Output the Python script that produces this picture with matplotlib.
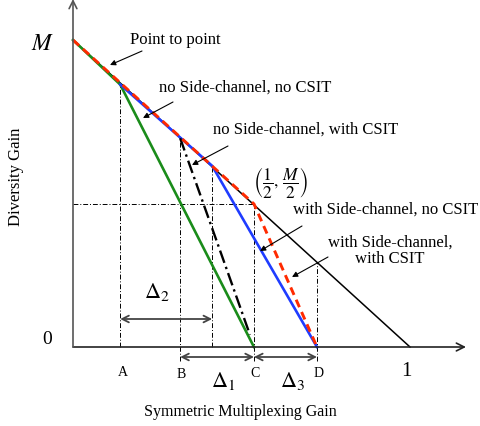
import matplotlib
matplotlib.use('Agg')
import matplotlib.pyplot as plt

plt.rcParams['font.family'] = ['Liberation Serif', 'DejaVu Serif']
plt.rcParams['mathtext.fontset'] = 'stix'

# 軸の値 (M = 1)
M = 1.0
point_x = [0.0, 1.0]
point_y = [M, 0.0]
nosc_nocsit_x = [0.0, 0.14, 0.537]
nosc_nocsit_y = [M, 0.855, 0.0]
nosc_csit_x = [0.318, 0.525]
nosc_csit_y = [0.68, 0.04]
sc_nocsit_x = [0.14, 0.413, 0.724]
sc_nocsit_y = [0.855, 0.59, 0.0]
sc_csit_x = [0.0, 0.537, 0.724]
sc_csit_y = [M, 0.466, 0.0]

# A, B, C, D の位置
mark_names = ['A', 'B', 'C', 'D']
mark_x = [0.14, 0.318, 0.537, 0.724]
mark_top = [0.855, 0.68, 0.466, 0.277]
gap_x = 0.413       # Δ2 の右端
half_y = 0.466      # (1/2, M/2) の高さ


def px(x, y):
    # 画像のピクセル位置 -> データ座標
    return (x - 73) / 337, (348 - y) / 307


fig = plt.figure(figsize=(4.8, 4.27), dpi=100)
ax = fig.add_axes([0, 0, 1, 1])
ax.set_xlim(-73 / 337, 407 / 337)
ax.set_ylim(-79 / 307, 348 / 307)
ax.axis('off')

# 軸の矢印
ax.annotate('', xy=px(466, 348), xytext=(0, 0),
            arrowprops=dict(arrowstyle='->', color='#222222', lw=1.2, mutation_scale=14,
                            shrinkA=0, shrinkB=0))
ax.annotate('', xy=px(73, 0), xytext=(0, 0),
            arrowprops=dict(arrowstyle='->', color='#555555', lw=1.2, mutation_scale=14,
                            shrinkA=0, shrinkB=0))

# 補助線
dd = (0, (5, 2, 1, 2))
bottoms = [0, -0.045, -0.045, -0.045]
for x, top, b in zip(mark_x, mark_top, bottoms):
    ax.plot([x, x], [b, top], color='black', lw=0.7, linestyle=dd)
ax.plot([gap_x, gap_x], [0, sc_nocsit_y[1]], color='black', lw=0.7, linestyle=dd)
ax.plot([0, mark_x[2]], [half_y, half_y], color='black', lw=0.7, linestyle=dd)

# 曲線
ax.plot(point_x, point_y, color='black', lw=1.1)
ax.plot(nosc_nocsit_x, nosc_nocsit_y, color='#1a8c1a', lw=1.9)
ax.plot(sc_nocsit_x, sc_nocsit_y, color='#1f3cff', lw=1.9)
ax.plot(nosc_csit_x, nosc_csit_y, color='black', lw=1.7, dashes=(5.5, 1.8, 1, 1.8))
ax.plot(sc_csit_x, sc_csit_y, color='#ff2a00', lw=2.1, dashes=(2.8, 1.8))

# 目盛りラベル
ax.text(*px(43, 45), '$M$', fontsize=17, ha='center', va='center')
ax.text(*px(47, 340), '0', fontsize=14, ha='center', va='center')
ax.text(*px(406, 372), '1', fontsize=15, ha='center', va='center')
label_px = [(123, 373), (181, 375), (255, 374), (319, 374)]
for name, (lx, ly) in zip(mark_names, label_px):
    ax.text(*px(lx, ly), name, fontsize=10, ha='center', va='center')

# Δ の矢印
arr = dict(arrowstyle='<->', color='#444444', lw=1.3, mutation_scale=12, shrinkA=0, shrinkB=0)
ax.annotate('', xy=(mark_x[0], px(0, 320)[1]), xytext=(gap_x, px(0, 320)[1]), arrowprops=arr)
ax.annotate('', xy=(mark_x[1], px(0, 358)[1]), xytext=(mark_x[2], px(0, 358)[1]), arrowprops=arr)
ax.annotate('', xy=(mark_x[2], px(0, 358)[1]), xytext=(mark_x[3], px(0, 358)[1]), arrowprops=arr)
ax.text(*px(157, 292), r'$\Delta_2$', fontsize=16, ha='center', va='center')
ax.text(*px(223, 381), r'$\Delta_1$', fontsize=16, ha='center', va='center')
ax.text(*px(293, 381), r'$\Delta_3$', fontsize=16, ha='center', va='center')

# 注釈
notes = [
    ('Point to point', (175, 40), (142, 52), (110, 66)),
    ('no Side-channel, no CSIT', (245, 88), (173, 103), (143, 119)),
    ('no Side-channel, with CSIT', (306, 130), (228, 147), (192, 166)),
    ('with Side-channel, no CSIT', (386, 210), (302, 227), (260, 252)),
    ('with Side-channel,\nwith CSIT', (390, 251), (328, 258), (292, 278)),
]
for txt, tpos, tail, tip in notes:
    ax.text(*px(*tpos), txt, fontsize=12, ha='center', va='center', linespacing=1.05)
    ax.annotate('', xy=px(*tip), xytext=px(*tail),
                arrowprops=dict(arrowstyle='-|>', color='black', lw=0.8, mutation_scale=8,
                                shrinkA=0, shrinkB=0))
ax.text(*px(281, 182), r'$\left(\dfrac{1}{2},\,\dfrac{M}{2}\right)$', fontsize=12.5,
        ha='center', va='center')

# 軸ラベル
ax.text(*px(16, 177), 'Diversity Gain', fontsize=12, rotation=90, ha='center', va='center')
ax.text(*px(240, 412), 'Symmetric Multiplexing Gain', fontsize=11.5, ha='center', va='center')

plt.savefig('out.png', dpi=100)
